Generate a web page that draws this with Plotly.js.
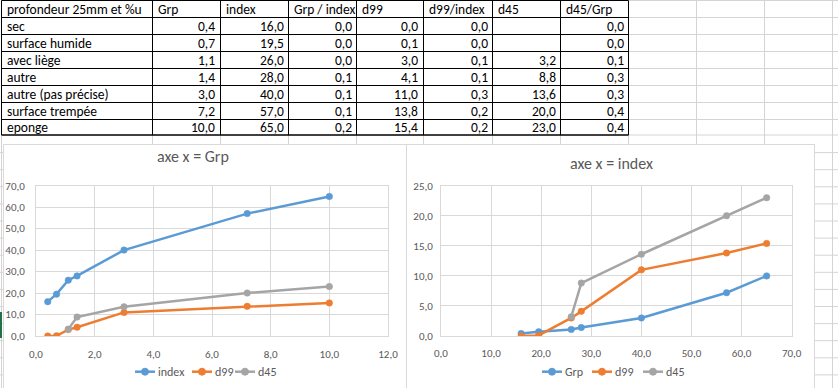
<!DOCTYPE html>
<html><head><meta charset="utf-8">
<script src="https://cdn.plot.ly/plotly-3.0.1.min.js"></script>
<style>html,body{margin:0;padding:0;background:#fff}#g{width:838px;height:388px}</style>
</head><body><div id="g"></div>
<script>
// ---- data (read from the sheet) ----
const headers = ["profondeur 25mm et %u","Grp","index","Grp / index","d99","d99/index","d45","d45/Grp"];
const rowLabels = ["sec","surface humide","avec liège","autre","autre (pas précise)","surface trempée","eponge"];
const grp = [0.4, 0.7, 1.1, 1.4, 3.0, 7.2, 10.0];
const idx = [16.0, 19.5, 26.0, 28.0, 40.0, 57.0, 65.0];
const grpIdx = [0.0, 0.0, 0.0, 0.1, 0.1, 0.1, 0.2];
const d99 = [0.0, 0.1, 3.0, 4.1, 11.0, 13.8, 15.4];
const d99Idx = [0.0, 0.0, 0.1, 0.1, 0.3, 0.2, 0.2];
const d45 = [null, null, 3.2, 8.8, 13.6, 20.0, 23.0];
const d45Grp = [0.0, 0.0, 0.1, 0.3, 0.3, 0.4, 0.4];
const title1 = "axe x = Grp";
const title2 = "axe x = index";

// ---- geometry helpers ----
const W = 838, H = 388;
const px = x => x / W, py = y => 1 - y / H;
const FONT = "Carlito, Calibri, Lato, sans-serif";
const BLUE = "#5B9BD5", ORANGE = "#ED7D31", GRAY = "#A5A5A5";
const TXT = "#595959", GRID = "#d9d9d9", SHEET = "#d4d4d4";

const colEdges = [1.5, 152.5, 220.5, 288.5, 356.5, 423.5, 492.5, 560.5, 628.5];
const extraCols = [696.5, 764.5, 832.5];
const rowEdges = [0.5, 17.5, 34.5, 51.5, 68.5, 85.5, 102.5, 119.5, 135];

const shapes = [];
const ann = [];
function hline(y, x0, x1, color, w, layer) {
  shapes.push({type:"line", xref:"paper", yref:"paper", x0:px(x0), x1:px(x1), y0:py(y), y1:py(y),
    line:{color:color, width:w||1}, layer:layer||"below"});
}
function vline(x, y0, y1, color, w, layer) {
  shapes.push({type:"line", xref:"paper", yref:"paper", x0:px(x), x1:px(x), y0:py(y0), y1:py(y1),
    line:{color:color, width:w||1}, layer:layer||"below"});
}
// spreadsheet gridlines
for (let k = 1; k <= 15; k++) hline(135 + 17.1 * k + 0.5, 0, W, SHEET);
rowEdges.forEach(y => hline(y, 628.5, W, SHEET));
extraCols.forEach(x => vline(x, 0, H, SHEET));
colEdges.forEach(x => vline(x, 135, H, SHEET));
// table borders
rowEdges.forEach((y, i) => hline(y, colEdges[0], colEdges[colEdges.length - 1], "#000", i === rowEdges.length - 1 ? 1.5 : 1));
colEdges.forEach(x => vline(x, rowEdges[0], rowEdges[rowEdges.length - 1], "#000", 1));
// selection mark at the left
shapes.push({type:"rect", xref:"paper", yref:"paper", x0:px(0), x1:px(2), y0:py(338), y1:py(312),
  fillcolor:"#217346", line:{width:0}, layer:"below"});
// chart areas
[[3.5, 406.5], [406.5, 814.5]].forEach(([a, b]) => {
  shapes.push({type:"rect", xref:"paper", yref:"paper", x0:px(a), x1:px(b), y0:py(390), y1:py(144.5),
    fillcolor:"#ffffff", line:{color:GRID, width:1}, layer:"below"});
});

// table text
const fmt = v => (v === null || v === undefined) ? "" : v.toFixed(1).replace(".", ",");
const cols = [grp, idx, grpIdx, d99, d99Idx, d45, d45Grp];
const tfont = {family:FONT, size:13.5, color:"#000"};
headers.forEach((h, c) => {
  ann.push({xref:"paper", yref:"paper", x:px(colEdges[c] + 3), y:py((rowEdges[0] + rowEdges[1]) / 2 + 0.5),
    text:h, showarrow:false, xanchor:"left", yanchor:"middle", font:tfont});
});
rowLabels.forEach((r, i) => {
  const yc = py((rowEdges[i + 1] + rowEdges[i + 2]) / 2 + 0.5);
  ann.push({xref:"paper", yref:"paper", x:px(colEdges[0] + 3), y:yc, text:r, showarrow:false,
    xanchor:"left", yanchor:"middle", font:tfont});
  cols.forEach((arr, c) => {
    const s = fmt(arr[i]);
    if (s) ann.push({xref:"paper", yref:"paper", x:px(colEdges[c + 2] - 3), y:yc, text:s, showarrow:false,
      xanchor:"right", yanchor:"middle", font:tfont});
  });
});

// chart titles
ann.push({xref:"paper", yref:"paper", x:px(193), y:py(156), text:title1, showarrow:false,
  xanchor:"center", yanchor:"middle", font:{family:FONT, size:16, color:TXT}});
ann.push({xref:"paper", yref:"paper", x:px(611), y:py(163), text:title2, showarrow:false,
  xanchor:"center", yanchor:"middle", font:{family:FONT, size:16, color:TXT}});

// manual legends
function legendItem(x0, name, color) {
  const y = 371.7;
  shapes.push({type:"line", xref:"paper", yref:"paper", x0:px(x0), x1:px(x0 + 20), y0:py(y), y1:py(y),
    line:{color:color, width:2.5}, layer:"above"});
  const cx = x0 + 10, r = 3.5;
  shapes.push({type:"circle", xref:"paper", yref:"paper", x0:px(cx - r), x1:px(cx + r), y0:py(y + r), y1:py(y - r),
    fillcolor:color, line:{color:color, width:1}, layer:"above"});
  ann.push({xref:"paper", yref:"paper", x:px(x0 + 21), y:py(y), text:name, showarrow:false,
    xanchor:"left", yanchor:"middle", font:{family:FONT, size:12, color:TXT}});
}
legendItem(135, "index", BLUE); legendItem(192, "d99", ORANGE); legendItem(235, "d45", GRAY);
legendItem(542, "Grp", BLUE); legendItem(592, "d99", ORANGE); legendItem(643, "d45", GRAY);

// traces
function tr(x, y, color, xa, ya) {
  return {type:"scatter", mode:"lines+markers", x:x, y:y, xaxis:xa, yaxis:ya, connectgaps:false,
    line:{color:color, width:2.5}, marker:{color:color, size:6.5, line:{color:color, width:0.5}},
    showlegend:false, hoverinfo:"x+y"};
}
const data = [
  tr(grp, idx, BLUE, "x", "y"), tr(grp, d99, ORANGE, "x", "y"), tr(grp, d45, GRAY, "x", "y"),
  tr(idx, grp, BLUE, "x2", "y2"), tr(idx, d99, ORANGE, "x2", "y2"), tr(idx, d45, GRAY, "x2", "y2")
];
const tick = {family:FONT, size:11, color:TXT};
function ax(domain, range, dtick, anchor, standoff) {
  return {domain:domain, range:range, dtick:dtick, tick0:0, anchor:anchor, tickformat:".1f",
    showgrid:true, gridcolor:GRID, gridwidth:1, zeroline:false, showline:true, linecolor:GRID, linewidth:1,
    mirror:true, ticks:"", tickfont:tick, ticklabelstandoff:standoff, fixedrange:true};
}
const yd = [py(336), py(185.7)];
const layout = {
  width:W, height:H, margin:{l:0, r:0, t:0, b:0}, paper_bgcolor:"#ffffff", plot_bgcolor:"rgba(0,0,0,0)",
  separators:", ", showlegend:false,
  xaxis: ax([px(36), px(388)], [0, 12], 2, "y", 8),
  yaxis: ax(yd, [0, 70], 10, "x", 8),
  xaxis2: ax([px(441), px(791.7)], [0, 70], 10, "y2", 7),
  yaxis2: ax(yd, [0, 25], 5, "x2", 5),
  shapes:shapes, annotations:ann
};
Plotly.newPlot("g", data, layout, {displayModeBar:false, staticPlot:true});
</script>
</body></html>
